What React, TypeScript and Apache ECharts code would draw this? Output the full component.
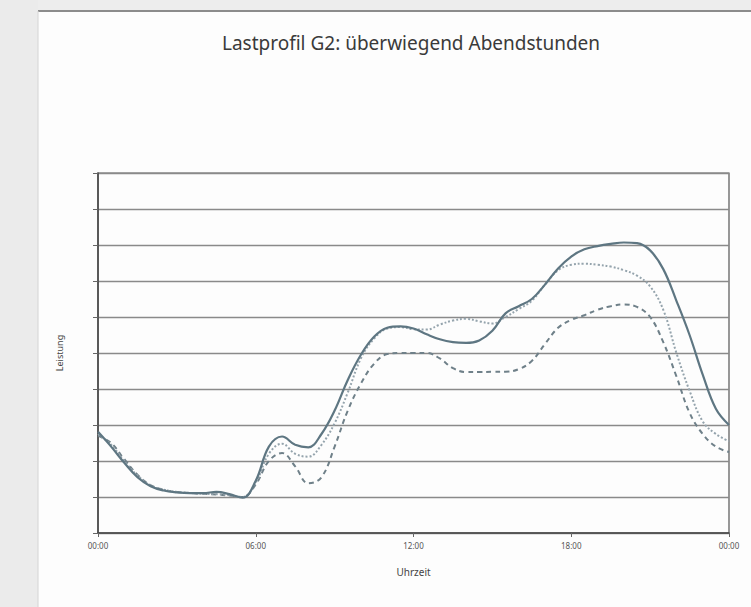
import React, { useEffect, useRef } from "react";
import * as echarts from "echarts";

const hours = [0,0.5,1,1.5,2,2.5,3,3.5,4,4.5,5,5.5,6,6.5,7,7.5,8,8.5,9,9.5,10,10.5,11,11.5,12,12.5,13,13.5,14,14.5,15,15.5,16,16.5,17,17.5,18,18.5,19,19.5,20,20.5,21,21.5,22,22.5,23,23.5,24];

const solidValues = [2.81,2.4,1.95,1.55,1.3,1.18,1.13,1.11,1.11,1.14,1.08,0.98,1.45,2.4,2.68,2.45,2.38,2.75,3.4,4.25,4.95,5.45,5.7,5.74,5.68,5.52,5.38,5.3,5.28,5.35,5.62,6.1,6.3,6.5,6.9,7.35,7.68,7.88,7.97,8.03,8.07,8.05,7.85,7.33,6.45,5.5,4.4,3.45,3.0];

const dottedValues = [2.75,2.45,2.0,1.6,1.32,1.2,1.14,1.11,1.09,1.08,1.05,1.0,1.4,2.2,2.48,2.2,2.12,2.45,3.05,3.9,4.85,5.4,5.68,5.72,5.66,5.65,5.79,5.9,5.95,5.88,5.82,6.0,6.22,6.45,6.9,7.3,7.45,7.48,7.45,7.4,7.3,7.15,6.85,6.2,5.0,3.95,3.1,2.75,2.55];

const dashedValues = [2.7,2.5,2.05,1.62,1.33,1.2,1.14,1.11,1.09,1.07,1.04,1.0,1.35,2.0,2.22,1.85,1.38,1.55,2.4,3.4,4.15,4.7,4.97,5.0,5.0,5.0,4.85,4.58,4.47,4.47,4.48,4.48,4.55,4.78,5.25,5.7,5.92,6.05,6.2,6.3,6.35,6.28,6.0,5.3,4.35,3.34,2.75,2.4,2.25];

const xTickLabels = ["00:00", "06:00", "12:00", "18:00", "00:00"];

const titleText = "Lastprofil G2: überwiegend Abendstunden";
const xName = "Uhrzeit";
const yName = "Leistung";

export default function App() {
  const ref = useRef<HTMLDivElement>(null);
  useEffect(() => {
    document.body.style.margin = "0";
    const chart = echarts.init(ref.current!, undefined, { renderer: "svg" });
    const pair = (vals: number[]) => hours.map((h, i) => [h, vals[i]]);
    chart.setOption({
      animation: false,
      backgroundColor: "#fdfdfd",
      textStyle: { fontFamily: "Noto Sans, sans-serif" },
      graphic: [
        { type: "rect", shape: { x: 0, y: 0, width: 751, height: 10 }, style: { fill: "#ededed" }, silent: true },
        { type: "rect", shape: { x: 0, y: 0, width: 38, height: 607 }, style: { fill: "#ebebeb" }, silent: true },
        { type: "line", shape: { x1: 38, y1: 11, x2: 751, y2: 11 }, style: { stroke: "#8c8c8c", lineWidth: 2 }, silent: true },
        { type: "line", shape: { x1: 38, y1: 11, x2: 38, y2: 607 }, style: { stroke: "#d4d4d4", lineWidth: 1 }, silent: true },
        {
          type: "text",
          x: 411,
          y: 33,
          style: { text: titleText, fill: "#3a3a3a", font: "19px 'Noto Sans', sans-serif", textAlign: "center" },
        },
      ],
      grid: { left: 98, right: 22, top: 173, bottom: 74, show: true, borderColor: "#555", borderWidth: 1.2 },
      xAxis: {
        type: "value",
        min: 0,
        max: 24,
        interval: 6,
        name: xName,
        nameLocation: "middle",
        nameGap: 34,
        nameTextStyle: { fontSize: 10, color: "#444" },
        axisLine: { show: true, lineStyle: { color: "#444", width: 1.5 } },
        axisTick: { show: true, length: 4, lineStyle: { color: "#666" } },
        axisLabel: {
          fontSize: 8,
          color: "#555",
          margin: 8,
          formatter: (v: number) => xTickLabels[Math.round(v / 6)],
        },
        splitLine: { show: false },
      },
      yAxis: {
        type: "value",
        min: 0,
        max: 10,
        interval: 1,
        name: yName,
        nameLocation: "middle",
        nameGap: 34,
        nameRotate: 90,
        nameTextStyle: { fontSize: 9, color: "#444" },
        axisLine: { show: true, lineStyle: { color: "#444", width: 1.5 } },
        axisTick: { show: true, length: 5, lineStyle: { color: "#666" } },
        axisLabel: { show: false },
        splitLine: { show: true, lineStyle: { color: "#8a8a8a", width: 1.3 } },
      },
      series: [
        {
          type: "line",
          name: "dashed",
          data: pair(dashedValues),
          smooth: 0.4,
          symbol: "none",
          lineStyle: { color: "#6f8089", width: 2, type: [5, 4] },
        },
        {
          type: "line",
          name: "dotted",
          data: pair(dottedValues),
          smooth: 0.4,
          symbol: "none",
          lineStyle: { color: "#95a4ad", width: 2, type: [2, 2] },
        },
        {
          type: "line",
          name: "solid",
          data: pair(solidValues),
          smooth: 0.4,
          symbol: "none",
          lineStyle: { color: "#5e7682", width: 2.2 },
        },
      ],
    });
    return () => chart.dispose();
  }, []);
  return <div ref={ref} style={{ width: 751, height: 607 }} />;
}
